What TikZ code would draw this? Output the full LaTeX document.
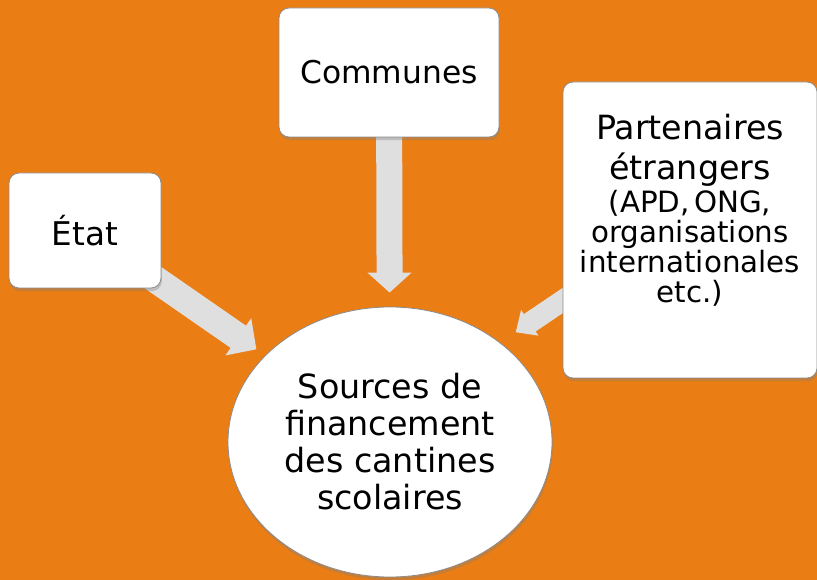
\documentclass[tikz,border=0pt]{standalone}
\usepackage{fontspec}
\setmainfont{DejaVu Sans}
\usetikzlibrary{shapes.geometric,arrows.meta,shadows}
\definecolor{bgorange}{RGB}{234,125,19}
\definecolor{flowgray}{RGB}{223,223,223}
\pgfdeclarelayer{back}
\pgfsetlayers{back,main}

\begin{document}
\begin{tikzpicture}[x=0.75pt,y=-0.75pt,
    box node/.style={rectangle,rounded corners=7.5pt,draw=black!45,line width=0.6pt,fill=white,inner sep=0pt,
        drop shadow={shadow xshift=0.6pt,shadow yshift=-2.4pt,opacity=0.35}},
    main node/.style={ellipse,draw=black!45,line width=0.6pt,fill=white,inner sep=0pt,align=center,
        minimum width=243pt,minimum height=202.5pt,font=\fontsize{25}{27.75}\selectfont,
        drop shadow={shadow xshift=0.6pt,shadow yshift=-2.4pt,opacity=0.35}},
    flow/.style n args={3}{draw=flowgray,line width=#1,arrows={-{Triangle[width=#2,length=#3]}}}]
    \useasboundingbox (0,0) rectangle (817,580);
    \begin{pgfonlayer}{back}
        \fill[bgorange] (0,0) rectangle (817,580);
    \end{pgfonlayer}

    \node[main node] (sources) at (390,442) {Sources de\\financement\\des cantines\\scolaires};
    \node[box node,minimum width=114pt,minimum height=86.25pt,font=\fontsize{24.5}{29}\selectfont] (etat) at (85,230.5) {État};
    \node[box node,minimum width=165pt,minimum height=96.75pt,font=\fontsize{23.5}{28}\selectfont] (communes) at (389,72.5) {Communes};
    \node[box node,minimum width=190.5pt,minimum height=222pt,text width=180pt,align=center] (partners) at (690,230)
        {{\fontsize{25}{30}\selectfont Partenaires\\ étrangers\par}\vspace{2pt}%
         {\fontsize{22}{22.5}\selectfont (APD, ONG,\\ organisations\\ internationales\\ etc.)\rule[-32pt]{0pt}{32pt}\par}};

    \begin{pgfonlayer}{back}
        \path
            (etat.center) edge[flow={20.25pt}{33pt}{16.5pt},shorten >=8pt] (sources)
            (communes.center) edge[flow={19.5pt}{32.25pt}{15pt},shorten >=10.5pt] (sources)
            (partners.209) edge[flow={15.75pt}{22.5pt}{12.75pt},shorten <=-8pt,shorten >=13.9pt] (sources.42)
            ;
    \end{pgfonlayer}
\end{tikzpicture}
\end{document}
